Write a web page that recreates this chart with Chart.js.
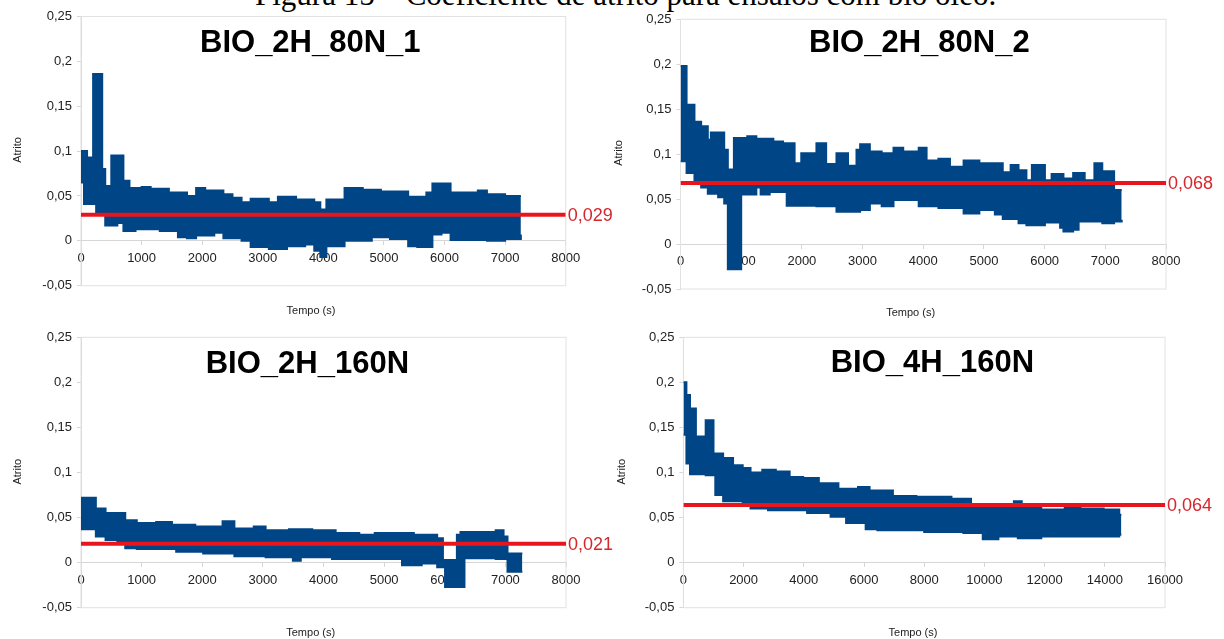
<!DOCTYPE html>
<html>
<head>
<meta charset="utf-8">
<script src="https://cdn.jsdelivr.net/npm/chart.js@4.4.0/dist/chart.umd.min.js"></script>
<style>
  html, body { margin: 0; padding: 0; background: #fff; }
  #page { position: relative; width: 1224px; height: 639px; overflow: hidden; }
  #page canvas { position: absolute; left: 0; top: 0; }
  .caption {
    position: absolute; left: 255px; top: -21px;
    font: 31px/31px "Liberation Serif", "Times New Roman", serif;
    white-space: nowrap; color: #000;
  }
</style>
</head>
<body>
<div id="page">
  <div class="caption">Figura 15 – Coeficiente de atrito para ensaios com bio óleo.</div>
  <canvas id="c1" width="1224" height="639"></canvas>
  <canvas id="c2" width="1224" height="639"></canvas>
  <canvas id="c3" width="1224" height="639"></canvas>
  <canvas id="c4" width="1224" height="639"></canvas>
</div>
<script>
/* ── tick labels ─────────────────────────────────────────── */
const Y_TICKS = [-0.05, 0, 0.05, 0.1, 0.15, 0.2, 0.25];
const X_TICKS_8K = [0, 1000, 2000, 3000, 4000, 5000, 6000, 7000, 8000];
const X_TICKS_16K = [0, 2000, 4000, 6000, 8000, 10000, 12000, 14000, 16000];

/* ── BIO_2H_80N_1 : time (s), upper / lower edge of the band ── */
const T1 = [0, 50, 100, 200, 250, 300, 350, 400, 500, 600, 700, 800, 900, 1000, 1150, 1300, 1450, 1600,
  1750, 1900, 2050, 2200, 2350, 2500, 2650, 2800, 2950, 3100, 3250, 3400, 3550, 3700, 3850, 3950, 4050,
  4200, 4350, 4500, 4650, 4800, 4950, 5100, 5250, 5400, 5550, 5700, 5800, 5950, 6100, 6250, 6400, 6550,
  6700, 6850, 7000, 7150, 7260];
const UP1 = [0.1, 0.1, 0.093, 0.186, 0.186, 0.186, 0.08, 0.061, 0.095, 0.095, 0.067, 0.059, 0.059, 0.06,
  0.058, 0.058, 0.054, 0.054, 0.05, 0.059, 0.056, 0.056, 0.052, 0.048, 0.043, 0.047, 0.047, 0.043, 0.049,
  0.049, 0.046, 0.046, 0.043, 0.035, 0.046, 0.046, 0.059, 0.059, 0.057, 0.057, 0.055, 0.055, 0.055, 0.049,
  0.049, 0.054, 0.064, 0.064, 0.054, 0.054, 0.054, 0.056, 0.052, 0.052, 0.05, 0.05, 0.05];
const LO1 = [0.065, 0.041, 0.041, 0.041, 0.03, 0.03, 0.03, 0.017, 0.017, 0.02, 0.011, 0.011, 0.013, 0.013,
  0.013, 0.011, 0.011, 0.004, 0.003, 0.006, 0.006, 0.009, 0.003, 0.003, 0, -0.007, -0.007, -0.009, -0.009,
  -0.006, -0.006, -0.004, -0.011, -0.018, -0.006, -0.006, 0, 0, 0, 0.004, 0.004, 0.002, 0.002, -0.006,
  -0.007, -0.007, 0.007, 0.009, 0.001, 0.001, 0.001, 0.001, 0, 0, 0.002, 0.002, 0.007];
const MEAN1 = 0.029;

/* ── BIO_2H_80N_2 ─────────────────────────────────────────── */
const T2 = [0, 100, 230, 340, 450, 500, 620, 720, 780, 880, 1000, 1100, 1250, 1320, 1470, 1530, 1690, 1750,
  1880, 1990, 2240, 2400, 2570, 2760, 2900, 2960, 3120, 3315, 3510, 3670, 3925, 4055, 4250, 4440, 4665,
  4925, 5180, 5310, 5440, 5570, 5700, 5790, 6005, 6115, 6255, 6310, 6470, 6560, 6660, 6820, 6950, 7145, 7270];
const UP2 = [0.198, 0.155, 0.136, 0.131, 0.116, 0.124, 0.124, 0.105, 0.083, 0.118, 0.118, 0.12, 0.117, 0.117,
  0.117, 0.114, 0.112, 0.112, 0.09, 0.101, 0.112, 0.089, 0.101, 0.087, 0.105, 0.111, 0.103, 0.101, 0.107,
  0.103, 0.107, 0.093, 0.095, 0.086, 0.093, 0.09, 0.09, 0.08, 0.088, 0.082, 0.071, 0.088, 0.071, 0.078,
  0.078, 0.073, 0.079, 0.079, 0.071, 0.09, 0.081, 0.06, 0.06];
const LO2 = [0.092, 0.079, 0.07, 0.063, 0.056, 0.056, 0.052, 0.045, -0.028, -0.028, 0.055, 0.055, 0.063, 0.055,
  0.058, 0.058, 0.058, 0.0425, 0.0425, 0.0425, 0.042, 0.042, 0.036, 0.036, 0.036, 0.038, 0.045, 0.042, 0.049,
  0.049, 0.042, 0.042, 0.04, 0.04, 0.034, 0.038, 0.033, 0.028, 0.028, 0.023, 0.021, 0.021, 0.024, 0.024,
  0.018, 0.014, 0.016, 0.025, 0.025, 0.025, 0.023, 0.025, 0.027];
const MEAN2 = 0.068;

/* ── BIO_2H_160N ──────────────────────────────────────────── */
const T3 = [0, 245, 405, 600, 730, 920, 1240, 1500, 1570, 1885, 2015, 2335, 2530, 2850, 3045, 3430, 3495,
  3625, 3815, 4140, 4200, 4590, 4845, 5295, 5490, 5620, 5875, 5970, 6005, 6200, 6260, 6325, 6840, 6970,
  7035, 7280];
const UP3 = [0.072, 0.06, 0.055, 0.055, 0.047, 0.044, 0.045, 0.042, 0.042, 0.04, 0.04, 0.046, 0.038, 0.04,
  0.036, 0.037, 0.037, 0.037, 0.036, 0.036, 0.033, 0.031, 0.033, 0.033, 0.031, 0.031, 0.027, 0.003, 0.003,
  0.031, 0.034, 0.034, 0.036, 0.029, 0.01, 0.01];
const LO3 = [0.037, 0.029, 0.025, 0.021, 0.016, 0.015, 0.015, 0.015, 0.012, 0.012, 0.01, 0.01, 0.007, 0.007,
  0.006, 0.006, 0.002, 0.006, 0.006, 0.004, 0.004, 0.004, 0.004, -0.003, -0.003, -0.001, -0.005, -0.005,
  -0.027, -0.027, -0.027, 0.005, 0.004, 0.004, -0.01, -0.01];
const MEAN3 = 0.021;

/* ── BIO_4H_160N ──────────────────────────────────────────── */
const T4 = [0, 100, 220, 415, 740, 1000, 1060, 1320, 1650, 1970, 2230, 2620, 2810, 3070, 3530, 3980, 4110,
  4500, 4890, 5150, 5405, 5800, 6055, 6185, 6445, 6960, 7740, 8000, 8905, 9300, 9555, 9945, 10075, 10465,
  10980, 11110, 11240, 11890, 12670, 13190, 13960, 14480, 14550];
const UP4 = [0.2, 0.186, 0.171, 0.14, 0.158, 0.121, 0.121, 0.116, 0.108, 0.105, 0.1, 0.103, 0.103, 0.101,
  0.095, 0.094, 0.094, 0.088, 0.088, 0.082, 0.082, 0.084, 0.084, 0.08, 0.08, 0.074, 0.073, 0.073, 0.071,
  0.071, 0.064, 0.064, 0.062, 0.062, 0.068, 0.068, 0.062, 0.059, 0.065, 0.06, 0.059, 0.053, 0.053];
const LO4 = [0.142, 0.11, 0.098, 0.098, 0.097, 0.097, 0.075, 0.068, 0.068, 0.067, 0.06, 0.06, 0.058, 0.058,
  0.058, 0.058, 0.055, 0.055, 0.051, 0.051, 0.044, 0.044, 0.037, 0.037, 0.036, 0.036, 0.036, 0.034, 0.034,
  0.033, 0.033, 0.026, 0.026, 0.029, 0.029, 0.027, 0.027, 0.029, 0.029, 0.029, 0.029, 0.031, 0.031];
const MEAN4 = 0.064;

const BLUE = '#004586';
const RED = '#e8161c';
const RED_TEXT = '#d7262d';
const AXIS_GRAY = '#d6d6d6';
const TEXT = '#222';
const Y_W = 40;

const PANELS = [
  { id: 'c1', title: 'BIO_2H_80N_1', t: T1, up: UP1, lo: LO1, mean: MEAN1, xMax: 8000, xTicks: X_TICKS_8K,
    box: { left: 81, right: 565.7, top: 16.5, bottom: 285.7 },
    titleAt: [310.3, 51.7], xTitleAt: [311, 310.7], yTitleAt: [18.3, 150] },
  { id: 'c2', title: 'BIO_2H_80N_2', t: T2, up: UP2, lo: LO2, mean: MEAN2, xMax: 8000, xTicks: X_TICKS_8K,
    box: { left: 680.5, right: 1166, top: 19.3, bottom: 289 },
    titleAt: [919.4, 51.7], xTitleAt: [910.6, 313.3], yTitleAt: [619, 153] },
  { id: 'c3', title: 'BIO_2H_160N', t: T3, up: UP3, lo: LO3, mean: MEAN3, xMax: 8000, xTicks: X_TICKS_8K,
    box: { left: 81, right: 566, top: 337.3, bottom: 607.7 },
    titleAt: [307.4, 372.5], xTitleAt: [310.7, 632.7], yTitleAt: [18.3, 471.7] },
  { id: 'c4', title: 'BIO_4H_160N', t: T4, up: UP4, lo: LO4, mean: MEAN4, xMax: 16000, xTicks: X_TICKS_16K,
    box: { left: 683.4, right: 1165, top: 337.3, bottom: 607.7 },
    titleAt: [932.4, 372], xTitleAt: [913, 632.7], yTitleAt: [622, 471.7] },
];

const fmtComma = v => String(Number(v.toFixed(3))).replace('.', ',');

// light grey frame round the plot area
const frame = {
  id: 'frame',
  beforeDatasetsDraw(chart) {
    const { ctx, chartArea: a } = chart;
    ctx.save();
    ctx.strokeStyle = '#e2e2e2';
    ctx.lineWidth = 1;
    ctx.strokeRect(a.left, a.top, a.right - a.left, a.bottom - a.top);
    ctx.restore();
  }
};

// chart title, axis titles and the mean label
const panelText = {
  id: 'panelText',
  afterDraw(chart, args, o) {
    const { ctx, chartArea: a } = chart;
    ctx.save();
    ctx.fillStyle = '#000';
    ctx.font = 'bold 31px "Liberation Sans", Arial, sans-serif';
    ctx.textAlign = 'center';
    ctx.textBaseline = 'alphabetic';
    ctx.fillText(o.title, o.titleAt[0], o.titleAt[1]);

    ctx.fillStyle = TEXT;
    ctx.font = '11px "Liberation Sans", Arial, sans-serif';
    ctx.textBaseline = 'middle';
    ctx.fillText('Tempo (s)', o.xTitleAt[0], o.xTitleAt[1]);
    ctx.save();
    ctx.translate(o.yTitleAt[0], o.yTitleAt[1]);
    ctx.rotate(-Math.PI / 2);
    ctx.fillText('Atrito', 0, 0);
    ctx.restore();

    const y = chart.scales.y.getPixelForValue(o.mean);
    ctx.fillStyle = RED_TEXT;
    ctx.font = '18px "Liberation Sans", Arial, sans-serif';
    ctx.textAlign = 'left';
    ctx.fillText(fmtComma(o.mean), a.right + 2, y + 1);
    ctx.restore();
  }
};

function makeChart(p) {
  const pts = vals => p.t.map((t, i) => ({ x: t, y: vals[i] }));
  const tickFont = { family: 'Liberation Sans', size: 13 };
  return new Chart(document.getElementById(p.id), {
    type: 'line',
    data: {
      datasets: [
        { data: [{ x: 0, y: p.mean }, { x: p.xMax, y: p.mean }], borderColor: RED, borderWidth: 4, fill: false, order: -1 },
        { data: pts(p.up), borderColor: BLUE, borderWidth: 2, stepped: true, fill: false },
        { data: pts(p.lo), borderColor: BLUE, borderWidth: 2, stepped: true, fill: '-1', backgroundColor: BLUE },
      ]
    },
    options: {
      responsive: false,
      animation: false,
      events: [],
      elements: { point: { radius: 0 } },
      layout: {
        padding: {
          left: p.box.left - Y_W, top: p.box.top,
          right: 1224 - p.box.right, bottom: 639 - p.box.bottom
        }
      },
      plugins: {
        legend: { display: false },
        tooltip: { enabled: false },
        panelText: { title: p.title, mean: p.mean, titleAt: p.titleAt, xTitleAt: p.xTitleAt, yTitleAt: p.yTitleAt }
      },
      scales: {
        x: {
          type: 'linear', position: { y: 0 }, min: 0, max: p.xMax,
          afterBuildTicks: s => { s.ticks = p.xTicks.map(v => ({ value: v })); },
          ticks: { autoSkip: false, maxRotation: 0, padding: 6, color: TEXT, font: tickFont, callback: v => String(v) },
          grid: { drawOnChartArea: false, tickLength: 4, color: AXIS_GRAY },
          border: { color: AXIS_GRAY }
        },
        y: {
          type: 'linear', position: 'left', min: -0.05, max: 0.25,
          afterBuildTicks: s => { s.ticks = Y_TICKS.map(v => ({ value: v })); },
          afterFit: s => { s.width = Y_W; },
          ticks: { padding: 5, color: TEXT, font: tickFont, callback: v => fmtComma(v) },
          grid: { drawOnChartArea: false, tickLength: 4, color: AXIS_GRAY },
          border: { color: AXIS_GRAY }
        }
      }
    },
    plugins: [frame, panelText]
  });
}

PANELS.forEach(makeChart);
</script>
</body>
</html>
